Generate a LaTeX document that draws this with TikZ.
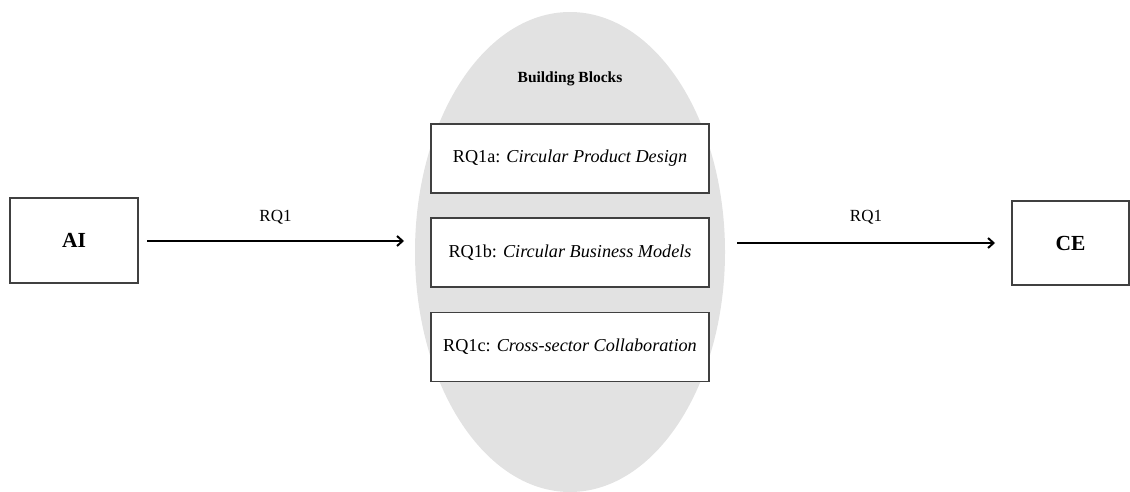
\documentclass[tikz,border=0pt]{standalone}
\usepackage{fontspec}
\setmainfont{Liberation Serif}
\usetikzlibrary{arrows.meta}
\definecolor{blobgray}{HTML}{E2E2E2}
\definecolor{edgegray}{HTML}{404040}
\begin{document}
\begin{tikzpicture}[x=1pt,y=-1pt,
  endbox/.style={draw=edgegray,line width=1.3pt,fill=white,inner sep=0pt,font=\fontsize{21.5}{25}\selectfont\bfseries},
  rqbox/.style={draw=edgegray,line width=1.3pt,fill=white,inner sep=0pt,minimum width=278pt,minimum height=69pt,font=\fontsize{18.2}{22}\selectfont},
  flow/.style={line width=2.2pt,-{Straight Barb[length=5.5pt,width=10pt,line width=2pt]}},
  flowlabel/.style={font=\fontsize{17}{20}\selectfont}]
\useasboundingbox (0,0) rectangle (1130,492);
% grey area holding the building blocks
\fill[blobgray] (570,252) ellipse [x radius=155, y radius=240];
\node[font=\fontsize{15.5}{18}\selectfont\bfseries] (title) at (570,79) {Building Blocks};
% the three building blocks
\node[rqbox] (rqa) at (570,158.5) {RQ1a: \textit{Circular Product Design}};
\node[rqbox] (rqb) at (570,252.5) {RQ1b: \textit{Circular Business Models}};
\node[rqbox] (rqc) at (570,347) {RQ1c: \textit{Cross-sector Collaboration}};
% end points
\node[endbox,minimum width=128pt,minimum height=85pt] (ai) at (74,240.5) {AI};
\node[endbox,minimum width=117pt,minimum height=84pt] (ce) at (1070.5,243) {CE};
% arrows
\coordinate (a1s) at (147,241);
\coordinate (a1e) at (404,241);
\coordinate (a2s) at (737,243);
\coordinate (a2e) at (995,243);
\draw[flow] (a1s) -- node[flowlabel,above=12pt] (l1) {RQ1} (a1e);
\draw[flow] (a2s) -- node[flowlabel,above=14pt] (l2) {RQ1} (a2e);
\end{tikzpicture}
\end{document}
